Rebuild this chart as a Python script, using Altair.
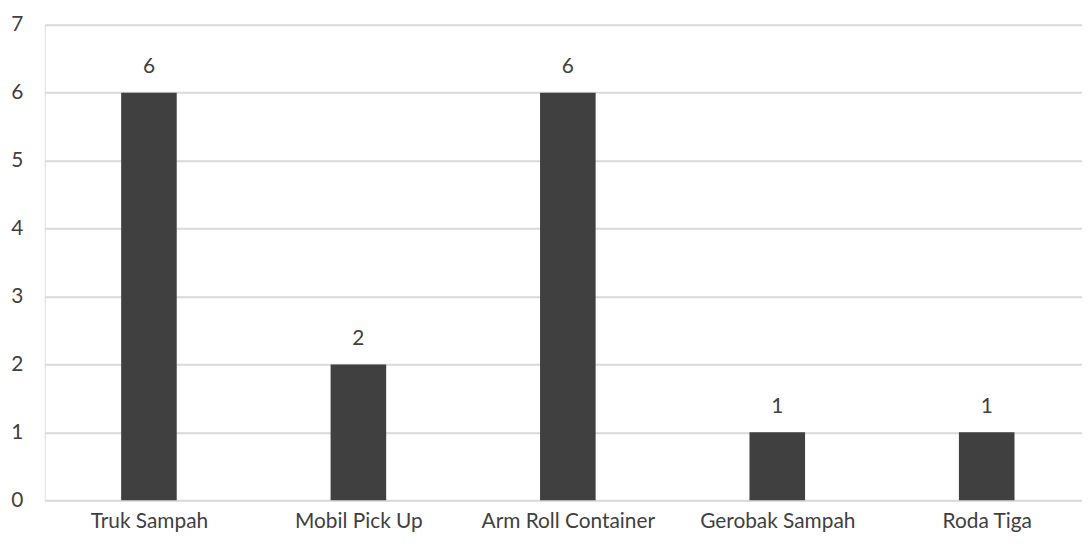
import altair as alt
import pandas as pd
import json

categories = ["Truk Sampah", "Mobil Pick Up", "Arm Roll Container", "Gerobak Sampah", "Roda Tiga"]
values = [6, 2, 6, 1, 1]

df = pd.DataFrame({"kategori": categories, "jumlah": values, "idx": list(range(len(categories)))})

FONT = "Lato"
TXT = "#404040"

label_expr = json.dumps(categories) + "[datum.value]"

base = alt.Chart(df).encode(
    x=alt.X(
        "idx:Q",
        scale=alt.Scale(domain=[-0.4976, 4.455], nice=False, zero=False, padding=0),
        axis=alt.Axis(
            title=None,
            values=list(range(len(categories))),
            labelExpr=label_expr,
            labelAngle=0,
            labelFont=FONT,
            labelFontSize=21,
            labelColor=TXT,
            labelPadding=10,
            labelFlush=False,
            labelOverlap=False,
            ticks=False,
            domain=False,
            grid=False,
        ),
    ),
    y=alt.Y(
        "jumlah:Q",
        scale=alt.Scale(domain=[0, 7], nice=False),
        axis=alt.Axis(
            title=None,
            values=[0, 1, 2, 3, 4, 5, 6, 7],
            labelFont=FONT,
            labelFontSize=21,
            labelColor=TXT,
            labelPadding=22,
            ticks=False,
            domain=False,
            grid=True,
            gridColor="#d9d9d9",
            gridWidth=2,
        ),
    ),
    tooltip=["kategori:N", "jumlah:Q"],
)

bars = base.mark_bar(color="#404040", size=56)
labels = base.mark_text(
    dy=-16, baseline="bottom", font=FONT, fontSize=21, color=TXT
).encode(text="jumlah:Q")

chart = (
    (bars + labels)
    .properties(
        width=1045,
        height=479,
        autosize=alt.AutoSizeParams(type="none"),
        padding={"left": 37, "top": 15, "right": 0, "bottom": 33},
    )
    .configure_view(stroke=None)
    .configure(background="white")
)

chart.save("out.html", embed_options={"renderer": "svg", "actions": False})
